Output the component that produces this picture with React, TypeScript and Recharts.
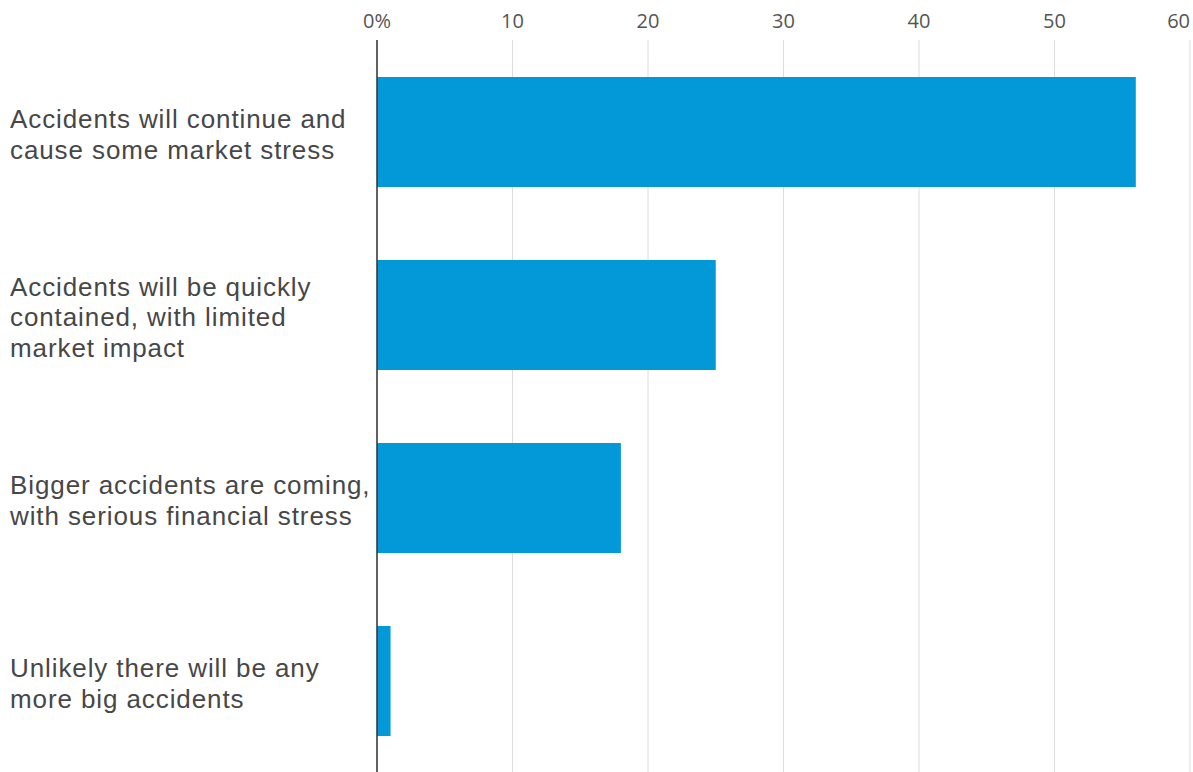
import React from "react";
import { BarChart, Bar, XAxis, YAxis, CartesianGrid } from "recharts";

const categories = [
  "Accidents will continue and\ncause some market stress",
  "Accidents will be quickly\ncontained, with limited\nmarket impact",
  "Bigger accidents are coming,\nwith serious financial stress",
  "Unlikely there will be any\nmore big accidents",
];
const shares = [56, 25, 18, 1];
const xTicks = [0, 10, 20, 30, 40, 50, 60];
const xTickLabels = ["0%", "10", "20", "30", "40", "50", "60"];

const data = categories.map((c, i) => ({ category: c, value: shares[i] }));

const TICK_FONT = "'Open Sans', 'DejaVu Sans', sans-serif";
const LABEL_FONT = "'Liberation Sans', Arial, sans-serif";

const XTick = (props: any) => {
  const { x, payload } = props;
  const last = payload.value === xTicks[xTicks.length - 1];
  const label = xTickLabels[xTicks.indexOf(payload.value)] ?? String(payload.value);
  return (
    <text
      x={x}
      y={23}
      textAnchor={last ? "end" : "middle"}
      dominantBaseline="middle"
      fontSize={20}
      fill="#555"
      fontFamily={TICK_FONT}
    >
      {label}
    </text>
  );
};

const YTick = (props: any) => {
  const { y, payload } = props;
  const lines = String(payload.value).split("\n");
  const lh = 30.5;
  const start = y + 5 - ((lines.length - 1) * lh) / 2;
  return (
    <g>
      {lines.map((l, i) => (
        <text
          key={i}
          x={10}
          y={start + i * lh}
          textAnchor="start"
          dominantBaseline="middle"
          fontSize={26}
          letterSpacing={0.9}
          fill="#474747"
          fontFamily={LABEL_FONT}
        >
          {l}
        </text>
      ))}
    </g>
  );
};

export default function App() {
  return (
    <div style={{ position: "absolute", left: 0, top: 0, background: "#fff" }}>
      <BarChart
        width={1193}
        height={772}
        data={data}
        layout="vertical"
        margin={{ top: 0, right: 3, bottom: 0, left: 0 }}
        barSize={110}
      >
        <CartesianGrid horizontal={false} stroke="#dcdcdc" strokeWidth={1} />
        <XAxis
          type="number"
          orientation="top"
          domain={[0, 60]}
          ticks={xTicks}
          height={40}
          axisLine={false}
          tickLine={false}
          tick={<XTick />}
          interval={0}
        />
        <YAxis
          type="category"
          dataKey="category"
          width={377}
          axisLine={{ stroke: "#333", strokeWidth: 1.5 }}
          tickLine={false}
          tick={<YTick />}
          interval={0}
        />
        <Bar dataKey="value" fill="#0399d9" isAnimationActive={false} />
      </BarChart>
    </div>
  );
}
